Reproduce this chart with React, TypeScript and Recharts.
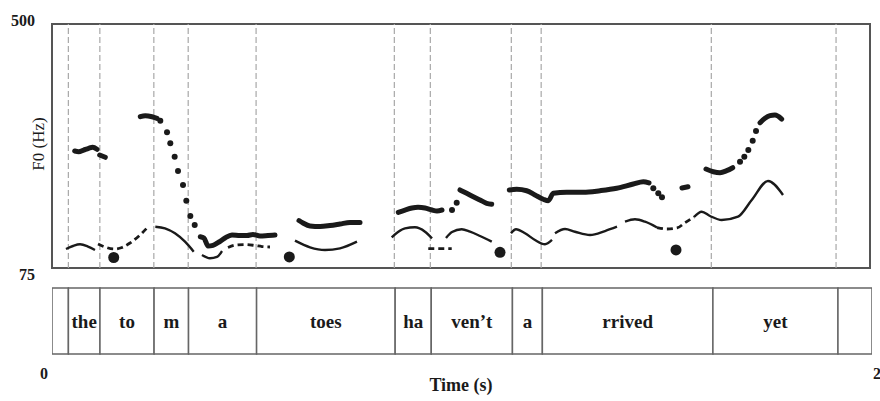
import React from "react";
import {
  ComposedChart,
  BarChart,
  Bar,
  Line,
  Scatter,
  XAxis,
  YAxis,
  ReferenceLine,
  ReferenceArea,
  LabelList,
  Label,
} from "recharts";

// word boundaries (s) and the words between them
const boundaries = [0.04, 0.117, 0.249, 0.333, 0.499, 0.837, 0.925, 1.123, 1.196, 1.612, 1.917];
const words = ["", "the", "to", "m", "a", "toes", "ha", "ven\u2019t", "a", "rrived", "yet", ""];
const timeTicks = [0, 2];
const f0Ticks = [75, 500];

// F0 track, dense runs [time s, Hz]
const f0Runs: number[][][] = [
  [[0.0555, 278.8], [0.0653, 277.6], [0.0775, 280.5], [0.0897, 283.5], [0.0995, 285.2], [0.110, 281.8]],
  [[0.1166, 271.8], [0.1303, 267.8]],
  [[0.2159, 338.5], [0.2281, 340.3], [0.2445, 338.5], [0.2567, 335.7]],
  [[0.3626, 129.5], [0.3716, 127.3], [0.3814, 113.3], [0.3936, 114.5], [0.4083, 120.3], [0.423, 127.3],
   [0.4401, 132.5], [0.4597, 131.6], [0.4768, 131.6], [0.4914, 133.4], [0.5086, 130.7], [0.5281, 131.6], [0.5452, 132.5]],
  [[0.6039, 157.7], [0.6137, 153.4], [0.6308, 148.2], [0.6553, 147.3], [0.6797, 149.0], [0.7042, 151.6], [0.7286, 154.3], [0.7531, 154.3]],
  [[0.8467, 172.0], [0.8631, 176.0], [0.8802, 179.5], [0.8949, 180.7], [0.912, 179.5], [0.9291, 176.0], [0.9413, 174.3], [0.9535, 176.0]],
  [[0.9976, 210.9], [1.0139, 205.1], [1.0301, 199.2], [1.0465, 193.4], [1.0628, 187.7], [1.0751, 186.0]],
  [[1.1181, 210.9], [1.1362, 212.1], [1.1606, 209.6], [1.1809, 202.2], [1.2012, 194.7], [1.2134, 192.2], [1.2257, 205.1],
   [1.2584, 206.9], [1.299, 206.9], [1.3399, 209.6], [1.3807, 213.8], [1.4213, 221.3], [1.4457, 225.3], [1.4597, 223.1]],
  [[1.5403, 214.3], [1.555, 216.6]],
  [[1.599, 247.4], [1.6169, 242.7], [1.6333, 241.0], [1.6496, 244.5], [1.6643, 249.7]],
  [[1.7311, 328.1], [1.7433, 335.7], [1.7555, 340.3], [1.7677, 341.5], [1.7841, 334.5]],
];

// F0 track, isolated points
const f0Dots = [
  [0.2648, 331.6], [0.2812, 311.4], [0.2892, 292.2], [0.2999, 268.9], [0.3081, 244.0], [0.3203, 219.6],
  [0.3284, 192.2], [0.3382, 165.6], [0.3489, 149.9],
  [0.978, 176.0], [0.9895, 188.7],
  [1.4702, 213.8], [1.4824, 205.1], [1.4914, 198.1],
  [1.6822, 260.2], [1.6927, 268.9], [1.7025, 280.5], [1.7132, 296.7], [1.7213, 313.6],
];

// pitch targets (big dots)
const targets = [[0.1509, 93.3], [0.5802, 94.2], [1.0954, 102.3], [1.5257, 106.4]];

// modelled contour pieces
const contourSolid: number[][][] = [
  [[0.0342, 108.1], [0.0513, 113.3], [0.0685, 116.3], [0.088, 112.4], [0.1051, 106.4]],
  [[0.2526, 146.9], [0.2763, 144.1], [0.3007, 135.4], [0.3252, 120.8], [0.3465, 103.4]],
  [[0.3667, 97.6], [0.3863, 91.9], [0.4034, 94.2], [0.4156, 104.6]],
  [[0.5941, 122.6], [0.6308, 111.1], [0.6675, 106.4], [0.7042, 109.3], [0.7457, 120.8]],
  [[0.8306, 128.5], [0.846, 137.7], [0.8631, 144.1], [0.8875, 145.9], [0.912, 138.2], [0.9291, 126.7]],
  [[0.9633, 127.3], [0.978, 137.7], [1.0017, 142.4], [1.022, 138.2], [1.0465, 130.7], [1.0751, 120.8]],
  [[1.1222, 135.4], [1.1345, 142.4], [1.1565, 135.4], [1.1809, 123.8], [1.2054, 116.3], [1.2225, 123.8]],
  [[1.2298, 135.4], [1.2543, 142.9], [1.2787, 138.2], [1.3154, 132.5], [1.3521, 139.4], [1.3814, 146.9]],
  [[1.401, 155.6], [1.4254, 159.8], [1.4499, 155.6], [1.4792, 145.5]],
  [[1.5697, 163.8], [1.5885, 173.1], [1.6088, 165.6], [1.6374, 158.6], [1.6773, 164.4], [1.7108, 193.4],
   [1.7506, 226.5], [1.7873, 202.2]],
];
const contourDashed: number[][][] = [
  [[0.1125, 116.8], [0.1296, 111.6], [0.1516, 108.1], [0.1711, 110.7], [0.1907, 118.5], [0.2152, 132.5], [0.2323, 144.7]],
  [[0.4303, 110.7], [0.4499, 115.1], [0.4719, 115.9], [0.4963, 114.2], [0.5134, 112.4], [0.533, 111.6]],
  [[0.92, 108.6], [0.9773, 108.6]],
  [[1.4792, 145.5], [1.5037, 142.9], [1.5281, 144.7], [1.5477, 153.9], [1.5697, 163.8]],
];

const pts = (arr: number[][]) => arr.map(([t, hz]) => ({ t, hz }));

const FONT = "'Liberation Serif', 'DejaVu Serif', serif";
const INK = "#1a1a1a";

const F0Tick = (props: any) => {
  const { x, y, payload } = props;
  const off = payload.value === 500 ? -4 : 6;
  return (
    <text x={x - 9} y={y + off} dy="0.35em" textAnchor="end" fontFamily={FONT} fontSize={16} fontWeight="bold" fill={INK}>
      {payload.value}
    </text>
  );
};

const TimeTick = (props: any) => {
  const { x, y, payload } = props;
  const first = payload.value === 0;
  return (
    <text x={first ? x - 4 : x + 1} y={y + 19} dy="0.35em" textAnchor={first ? "end" : "start"} fontFamily={FONT} fontSize={16} fontWeight="bold" fill={INK}>
      {payload.value}
    </text>
  );
};

const tierRow: Record<string, any> = { row: "words" };
words.forEach((w, i) => {
  const start = i === 0 ? 0 : boundaries[i - 1];
  const end = i < boundaries.length ? boundaries[i] : 2;
  tierRow["s" + i] = +(end - start).toFixed(4);
});

export default function App() {
  return (
    <div style={{ position: "absolute", left: 0, top: 0, width: 880, height: 401, background: "#fff" }}>
      <ComposedChart width={880} height={282} margin={{ top: 24, right: 10, bottom: 14, left: 0 }}>
        <XAxis type="number" dataKey="t" domain={[0, 2]} hide allowDataOverflow />
        <YAxis
          type="number"
          dataKey="hz"
          domain={[75, 500]}
          ticks={f0Ticks}
          width={52}
          axisLine={false}
          tickLine={false}
          tick={<F0Tick />}
          allowDataOverflow
        >
          <Label
            content={(p: any) => {
              const cy = p.viewBox.y + p.viewBox.height / 2 - 2;
              return (
                <text x={38} y={cy} transform={`rotate(-90 38 ${cy})`} textAnchor="middle" dominantBaseline="central" fontFamily={FONT} fontSize={17} fill={INK}>
                  F0 (Hz)
                </text>
              );
            }}
          />
        </YAxis>
        {boundaries.map((b) => (
          <ReferenceLine key={b} x={b} stroke="#a8a8a8" strokeDasharray="6 3" strokeWidth={1.2} />
        ))}
        <ReferenceArea x1={0} x2={2} y1={75} y2={500} fill="none" stroke="#555" strokeWidth={2} />
        {contourSolid.map((seg, i) => (
          <Line key={"cs" + i} data={pts(seg)} dataKey="hz" type="monotone" stroke={INK} strokeWidth={2.4} dot={false} isAnimationActive={false} />
        ))}
        {contourDashed.map((seg, i) => (
          <Line key={"cd" + i} data={pts(seg)} dataKey="hz" type="monotone" stroke={INK} strokeWidth={2.8} strokeDasharray="6 4" dot={false} isAnimationActive={false} />
        ))}
        {f0Runs.map((seg, i) => (
          <Line key={"f" + i} data={pts(seg)} dataKey="hz" type="monotone" stroke={INK} strokeWidth={5} strokeLinecap="round" dot={false} isAnimationActive={false} />
        ))}
        <Scatter data={pts(f0Dots)} isAnimationActive={false} shape={(p: any) => <circle cx={p.cx} cy={p.cy} r={3} fill={INK} />} />
        <Scatter data={pts(targets)} isAnimationActive={false} shape={(p: any) => <circle cx={p.cx} cy={p.cy} r={5.5} fill={INK} />} />
      </ComposedChart>
      <BarChart
        width={880}
        height={119}
        data={[tierRow]}
        layout="vertical"
        barCategoryGap={0}
        margin={{ top: 6, right: 8, bottom: 0, left: 52 }}
      >
        <XAxis
          type="number"
          domain={[0, 2]}
          ticks={timeTicks}
          axisLine={false}
          tickLine={false}
          tickSize={0}
          tickMargin={0}
          height={47}
          tick={<TimeTick />}
          allowDataOverflow
        >
          <Label
            content={(p: any) => (
              <text x={p.viewBox.x + p.viewBox.width / 2 - 1} y={p.viewBox.y + 37} textAnchor="middle" fontFamily={FONT} fontSize={18} fontWeight="bold" fill={INK}>
                Time (s)
              </text>
            )}
          />
        </XAxis>
        <YAxis type="category" dataKey="row" hide />
        {words.map((w, i) => (
          <Bar key={"s" + i} dataKey={"s" + i} stackId="tier" fill="#fff" stroke="#666" strokeWidth={1.5} isAnimationActive={false}>
            {w && (
              <LabelList
                dataKey={"s" + i}
                position="center"
                formatter={() => w}
                fill={INK}
                fontFamily={FONT}
                fontSize={19}
                fontWeight="bold"
              />
            )}
          </Bar>
        ))}
      </BarChart>
    </div>
  );
}
